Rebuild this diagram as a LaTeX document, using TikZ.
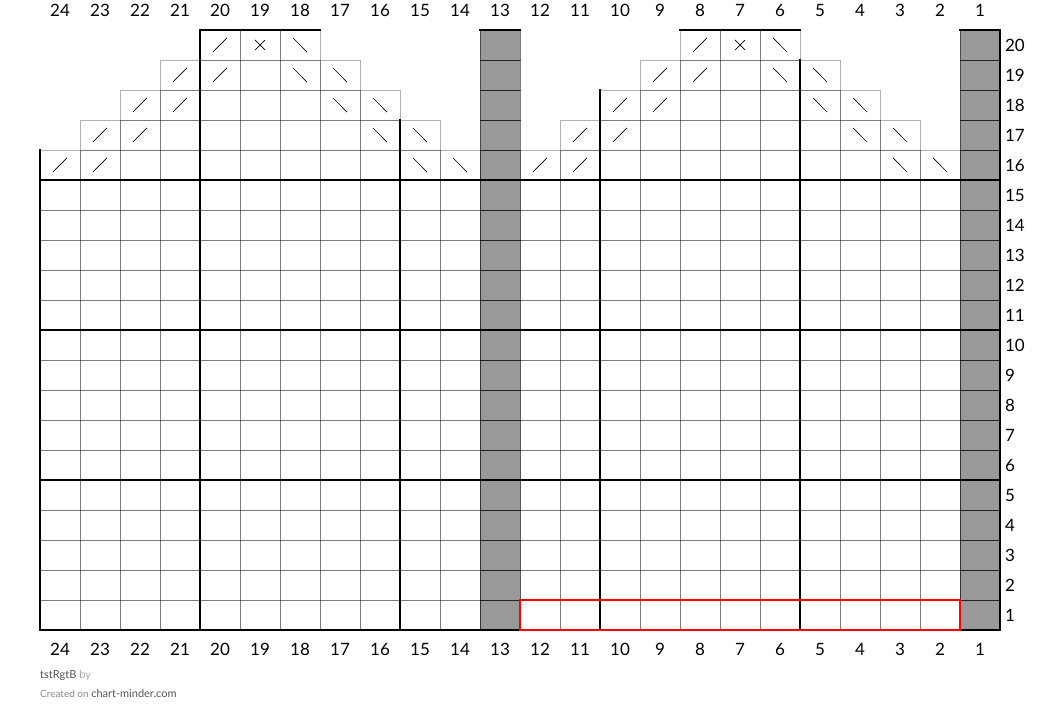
\documentclass[tikz,border=0pt]{standalone}
\usepackage{fontspec}
\setmainfont{Lato}
\definecolor{cmgray}{HTML}{999999}
\definecolor{cmtext}{HTML}{555555}
\definecolor{cmlight}{HTML}{8A8A8A}

\begin{document}
\begin{tikzpicture}[
  x=40pt, y=30pt,
  cell/.style={draw=black, draw opacity=0.3, line width=0.8pt},
  greycell/.style={fill=cmgray},
  guide/.style={black, line width=2pt, line cap=rect},
  stitchmark/.style={black, line width=0.7pt},
  numlbl/.style={font=\fontsize{17}{19}\selectfont, text=black, inner sep=0pt},
  footlbl/.style={font=\fontsize{11}{13}\selectfont, inner sep=0pt, anchor=west},
]
\useasboundingbox (-1,-3.1) rectangle (25,21);

% Grey stitches: col 13 and col 1, all rows
\foreach \x in {11,23}
  \fill[greycell] (\x,0) rectangle ++(1,20);

% Lower block: rows 1-15, all 24 stitches
\foreach \r in {1,...,15}
  \foreach \x in {0,...,23}
    \draw[cell] (\x,\r-1) rectangle ++(1,1);

% Upper staircase: rows 16-20, two shaped halves plus grey columns
\foreach \k in {1,...,5}{
  \pgfmathtruncatemacro{\la}{\k-1}
  \pgfmathtruncatemacro{\lb}{11-\k}
  \pgfmathtruncatemacro{\ra}{11+\k}
  \pgfmathtruncatemacro{\rb}{23-\k}
  \foreach \x in {\la,...,\lb}
    \draw[cell] (\x,14+\k) rectangle ++(1,1);
  \foreach \x in {\ra,...,\rb}
    \draw[cell] (\x,14+\k) rectangle ++(1,1);
  \foreach \x in {11,23}
    \draw[cell] (\x,14+\k) rectangle ++(1,1);
}
% grey cells get a darker border
\foreach \x in {11,23}
  \foreach \r in {1,...,20}
    \draw[cell] (\x,\r-1) rectangle ++(1,1);

% Thick guide lines every 5 rows / stitches
\foreach \y in {0,5,10,15}
  \draw[guide] (0,\y) -- (24,\y);
\draw[guide] (0,0) -- (0,16);
\draw[guide] (4,0) -- (4,20);
\draw[guide] (9,0) -- (9,17);
\draw[guide] (14,0) -- (14,18);
\draw[guide] (19,0) -- (19,19);
\draw[guide] (24,0) -- (24,20);
\draw[guide] (4,20) -- (7,20);
\draw[guide] (16,20) -- (19,20);
\draw[guide] (11,20) -- (12,20);
\draw[guide] (23,20) -- (24,20);

% Decrease symbols (k2tog / ssk / central double)
\foreach \k in {1,...,5}
  \foreach \off in {0,12}{
    \pgfmathsetmacro{\cy}{14.5+\k}
    \ifnum\k<5
      \foreach \x in {\k-1,\k}
        \draw[stitchmark] ({\off+\x+0.5-0.175},{\cy-0.233}) -- ++(0.35,0.467);
      \foreach \x in {10-\k,11-\k}
        \draw[stitchmark] ({\off+\x+0.5-0.175},{\cy+0.233}) -- ++(0.35,-0.467);
    \else
      \draw[stitchmark] ({\off+4.325},{\cy-0.233}) -- ++(0.35,0.467);
      \draw[stitchmark] ({\off+5.375},{\cy-0.167}) -- ++(0.25,0.333)
                  ({\off+5.375},{\cy+0.167}) -- ++(0.25,-0.333);
      \draw[stitchmark] ({\off+6.325},{\cy+0.233}) -- ++(0.35,-0.467);
    \fi
  }

% Repeat box on row 1
\draw[red, line width=1.6pt] (12,0) rectangle (23,1);

% Stitch numbers top and bottom, row numbers right
\foreach \c in {1,...,24}{
  \node[numlbl] (top\c) at ({24.5-\c},20.667) {\c};
  \node[numlbl] (bot\c) at ({24.5-\c},-0.65) {\c};
}
\foreach \r in {1,...,20}
  \node[numlbl, anchor=west] (row\r) at (24.12,\r-0.5) {\r};

% Footer
\node[footlbl] (title) at (0,-1.5) {\textcolor{cmtext}{tstRgtB} \textcolor{cmlight!70}{by}};
\node[footlbl, font=\fontsize{10}{12}\selectfont] (credit) at (0,-2.1)
  {\textcolor{cmlight}{Created on} \textcolor{cmtext}{\fontsize{11}{13}\selectfont chart-minder.com}};

\end{tikzpicture}
\end{document}
